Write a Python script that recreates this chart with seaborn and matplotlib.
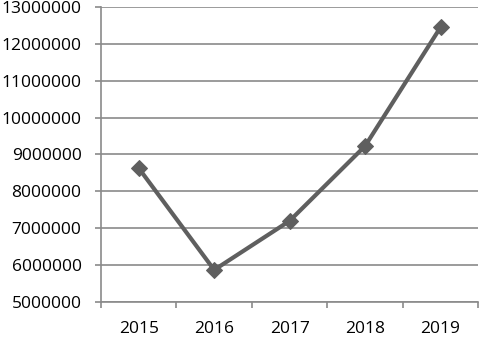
import numpy as np
import pandas as pd
import matplotlib.pyplot as plt
import seaborn as sns

# Данные графика
years = ['2015', '2016', '2017', '2018', '2019']
values = [8630000, 5870000, 7200000, 9230000, 12450000]

df = pd.DataFrame({'year': years, 'value': values})

sns.set_style('white')
plt.rcParams['font.family'] = ['Open Sans', 'DejaVu Sans']

fig = plt.figure(figsize=(4.8, 3.42), dpi=100)
ax = fig.add_axes([0.2104, 0.117, 0.786, 0.8625])

grid_c = '#8a8a8a'
line_c = '#5f5f5f'

sns.lineplot(data=df, x='year', y='value', ax=ax, color=line_c, linewidth=3,
             marker='D', markersize=8, markeredgecolor=line_c, markerfacecolor=line_c,
             sort=False)

ax.set_ylim(5000000, 13000000)
ax.set_yticks(np.arange(5000000, 13000001, 1000000))
ax.set_yticklabels([str(v) for v in range(5000000, 13000001, 1000000)])
ax.set_xlim(-0.5, len(years) - 0.5)
ax.set_xticks(range(len(years)))
ax.set_xticklabels(years)
ax.set_xticks(np.arange(-0.5, len(years), 1.0), minor=True)

ax.grid(axis='y', color=grid_c, linewidth=1.2)
ax.set_axisbelow(True)
for s in ['top', 'right']:
    ax.spines[s].set_visible(False)
for s in ['left', 'bottom']:
    ax.spines[s].set_color(grid_c)
    ax.spines[s].set_linewidth(1.2)

ax.tick_params(axis='y', which='major', left=True, length=4, width=1.2, color=grid_c,
               pad=10, labelsize=12.5, labelcolor='black')
ax.tick_params(axis='x', which='major', bottom=False, length=0, pad=14,
               labelsize=12.5, labelcolor='black')
ax.tick_params(axis='x', which='minor', bottom=True, length=4, width=1.2, color=grid_c)

ax.set_xlabel('')
ax.set_ylabel('')

fig.savefig('out.png', dpi=100)
